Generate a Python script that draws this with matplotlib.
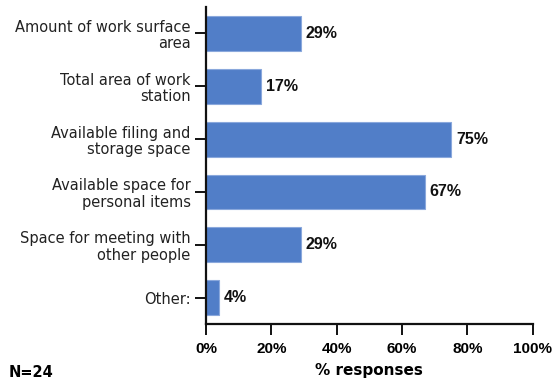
import matplotlib
matplotlib.use('Agg')
import matplotlib.pyplot as plt
from matplotlib.ticker import FuncFormatter

# Data
categories = ['Amount of work surface\narea',
              'Total area of work\nstation',
              'Available filing and\nstorage space',
              'Available space for\npersonal items',
              'Space for meeting with\nother people',
              'Other:']
values = [29, 17, 75, 67, 29, 4]
xticks = [0, 20, 40, 60, 80, 100]

fig = plt.figure(figsize=(5.55, 3.85), dpi=100)
ax = fig.add_axes([0.371, 0.158, 0.589, 0.824])

ypos = list(range(len(categories)))
ax.barh(ypos, values, height=0.66, color='#517ec8', edgecolor='#8aa8dc', linewidth=0.8)
ax.set_ylim(len(categories) - 0.5, -0.5)
ax.set_xlim(0, 100)

for y, v in zip(ypos, values):
    ax.annotate('%d%%' % v, xy=(v, y), xytext=(3.5, 0), textcoords='offset points',
                ha='left', va='center', fontsize=11.5, fontweight='bold',
                family='Liberation Sans', color='#111111')

ax.set_yticks(ypos)
ax.set_yticklabels(categories, fontsize=10.5, family='DejaVu Sans', color='#222222',
                   linespacing=1.12)
ax.set_xticks(xticks)
ax.xaxis.set_major_formatter(FuncFormatter(lambda v, p: '%d%%' % v))
for lab in ax.get_xticklabels():
    lab.set_fontweight('bold')
    lab.set_fontsize(11)
    lab.set_family('Liberation Sans')
ax.tick_params(axis='both', direction='out', length=8, width=1.4, color='#111111')
ax.tick_params(axis='y', pad=3)
ax.tick_params(axis='x', pad=5)

for s in ['top', 'right']:
    ax.spines[s].set_visible(False)
for s in ['left', 'bottom']:
    ax.spines[s].set_linewidth(1.6)
    ax.spines[s].set_color('#111111')

ax.set_xlabel('% responses', fontsize=11, fontweight='bold', labelpad=5)
fig.text(0.015, 0.02, 'N=24', fontsize=10.5, fontweight='bold')

fig.savefig('out.png', dpi=100)
